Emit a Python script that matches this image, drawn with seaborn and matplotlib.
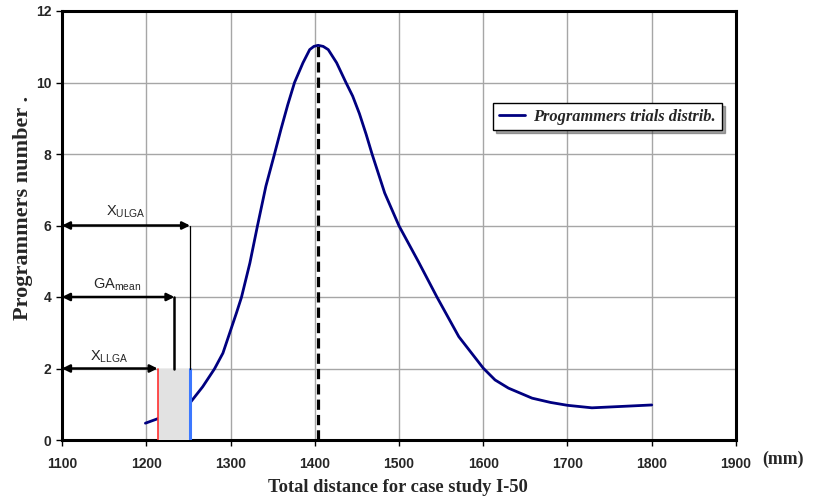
import matplotlib
matplotlib.use("Agg")
import matplotlib.pyplot as plt
import seaborn as sns
import pandas as pd

# ---- data ----
distance_mm = [1199, 1213, 1232, 1253, 1267, 1281, 1291, 1299, 1307, 1313,
               1323, 1332, 1342, 1352, 1360, 1368, 1376, 1386, 1394,
               1399, 1404, 1410, 1416, 1426, 1437, 1445, 1453, 1461, 1468,
               1483, 1500, 1523, 1545, 1571, 1600, 1614, 1630, 1658, 1680,
               1700, 1729, 1765, 1800]
programmers = [0.47, 0.59, 0.80, 1.07, 1.49, 1.99, 2.43, 2.99, 3.55, 3.99,
               4.95, 5.99, 7.10, 7.98, 8.70, 9.38, 10.0, 10.55, 10.92,
               11.01, 11.04, 11.01, 10.92, 10.55, 10.0, 9.62, 9.13, 8.55, 8.0,
               6.91, 5.99, 4.99, 4.0, 2.89, 2.01, 1.68, 1.45, 1.17, 1.05,
               0.97, 0.90, 0.94, 0.98]

x_llga = 1213.5
ga_mean = 1233.5
x_ulga = 1252
peak_x = 1404
peak_y = 11.04
band_top = 2

x_ticks = list(range(1100, 2000, 100))
y_ticks = list(range(0, 14, 2))

df = pd.DataFrame({"distance": distance_mm, "count": programmers})

sns.set_style("whitegrid", {"grid.color": "#a6a6a6", "axes.edgecolor": "black"})
plt.rcParams["font.family"] = ["Liberation Sans", "DejaVu Sans"]

fig = plt.figure(figsize=(8.16, 4.97), dpi=100)
ax = fig.add_axes([62 / 816, 1 - 440 / 497, 674 / 816, 429 / 497])

sns.lineplot(data=df, x="distance", y="count", estimator=None, sort=False,
             color="#000080", linewidth=2, ax=ax, label="Programmers trials distrib.",
             zorder=3)

# shaded band between lower and upper limits
ax.fill_between([x_llga, x_ulga], 0, band_top, color="#e2e2e2", zorder=4, linewidth=0)
ax.plot([x_llga, x_llga], [0, band_top], color="#ff3030", lw=1.2, zorder=5)
ax.plot([x_ulga, x_ulga], [0, band_top], color="#3c78ff", lw=2.2, zorder=5)

# peak marker
ax.plot([peak_x, peak_x], [0, peak_y], color="black", lw=2.3, ls=(0, (3.2, 1.6)), zorder=4)

# annotation arrows
arrow_kw = dict(arrowstyle="<|-|>", color="black", lw=1.8, mutation_scale=11,
                shrinkA=0, shrinkB=0)
for xr, yv in [(x_ulga, 6), (ga_mean, 4), (x_llga, 2)]:
    ax.annotate("", xy=(1100, yv), xytext=(xr, yv), arrowprops=arrow_kw, zorder=6)
ax.plot([x_ulga, x_ulga], [6, band_top], color="black", lw=0.9, zorder=5)
ax.plot([ga_mean, ga_mean], [4, band_top], color="black", lw=1.8, zorder=5)

ax.text(1176, 6.15, r"$\mathregular{X_{ULGA}}$", ha="center", va="bottom", fontsize=10.5)
ax.text(1166, 4.1, r"$\mathregular{GA_{mean}}$", ha="center", va="bottom", fontsize=10.5)
ax.text(1156, 2.1, r"$\mathregular{X_{LLGA}}$", ha="center", va="bottom", fontsize=10.5)

ax.set_xlim(1100, 1900)
ax.set_ylim(0, 12)
ax.set_xticks(x_ticks)
ax.set_yticks(y_ticks)
for lab in ax.get_xticklabels() + ax.get_yticklabels():
    lab.set_fontweight("bold")
    lab.set_fontsize(10)
ax.tick_params(axis="both", direction="out", length=4, width=1, color="black",
               bottom=True, left=True)
ax.tick_params(axis="x", pad=8)
for sp in ax.spines.values():
    sp.set_linewidth(2.2)
    sp.set_color("black")
ax.grid(True, lw=1)

serif = ["Liberation Serif", "DejaVu Serif"]
ax.set_xlabel("Total distance for case study I-50", family=serif, fontweight="bold",
              fontsize=13.3)
ax.set_ylabel("Programmers number .", family=serif, fontweight="bold", fontsize=16)
ax.xaxis.set_label_coords(0.4985, -0.092)
ax.yaxis.set_label_coords(-0.043, 0.542)
fig.text(783 / 816, 1 - 459 / 497, "(mm)", family=serif, fontweight="bold",
         fontsize=12.8, ha="center", va="center")

leg = ax.legend(loc="upper right", bbox_to_anchor=(0.979, 0.7855), frameon=True,
                fancybox=False, shadow=True, handlelength=1.6, borderpad=0.35,
                borderaxespad=0, handletextpad=0.5,
                prop={"family": serif, "weight": "bold", "style": "italic", "size": 11.8})
leg.get_frame().set_edgecolor("black")
leg.get_frame().set_linewidth(1)

fig.savefig("out.png", dpi=100)
